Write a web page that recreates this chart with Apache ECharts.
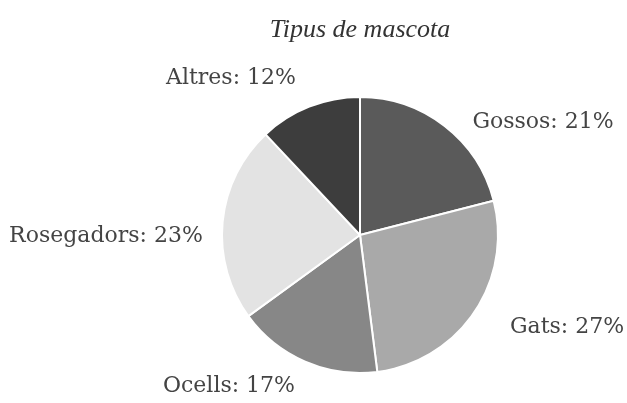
<!DOCTYPE html>
<html>
<head>
<meta charset="utf-8">
<script src="https://cdn.jsdelivr.net/npm/echarts@6/dist/echarts.min.js"></script>
<style>
  html, body { margin: 0; padding: 0; background: #fff; }
  #chart { width: 627px; height: 403px; }
</style>
</head>
<body>
<div id="chart"></div>
<script>
const title = "Tipus de mascota";
const categories = ["Gossos", "Gats", "Ocells", "Rosegadors", "Altres"];
const values = [21, 27, 17, 23, 12];
const colors = ["#5a5a5a", "#a9a9a9", "#878787", "#e3e3e3", "#3d3d3d"];

// where each label sits (centre of text)
const labelSpots = [
  [543, 122],
  [567, 327],
  [229, 386],
  [106, 236],
  [231, 78],
];

const chart = echarts.init(document.getElementById("chart"));
chart.setOption({
  animation: false,
  title: {
    text: title,
    left: 355,
    textAlign: "center",
    top: 12,
    textStyle: {
      fontFamily: "Liberation Serif",
      fontStyle: "italic",
      fontWeight: "normal",
      fontSize: 26,
      color: "#333",
    },
  },
  series: [
    {
      type: "pie",
      center: [360, 235],
      radius: 138,
      startAngle: 90,
      clockwise: true,
      data: categories.map((name, i) => ({
        name,
        value: values[i],
        itemStyle: { color: colors[i] },
      })),
      itemStyle: { borderColor: "#fff", borderWidth: 2 },
      label: {
        show: true,
        position: "outside",
        formatter: (p) => `${p.name}: ${p.value}%`,
        fontFamily: "DejaVu Serif",
        fontSize: 22,
        color: "#444",
        overflow: "none",
      },
      labelLine: { show: false },
      labelLayout: (p) => ({
        x: labelSpots[p.dataIndex][0],
        y: labelSpots[p.dataIndex][1],
        align: "center",
        verticalAlign: "middle",
        width: 300,
      }),
    },
  ],
});
</script>
</body>
</html>
